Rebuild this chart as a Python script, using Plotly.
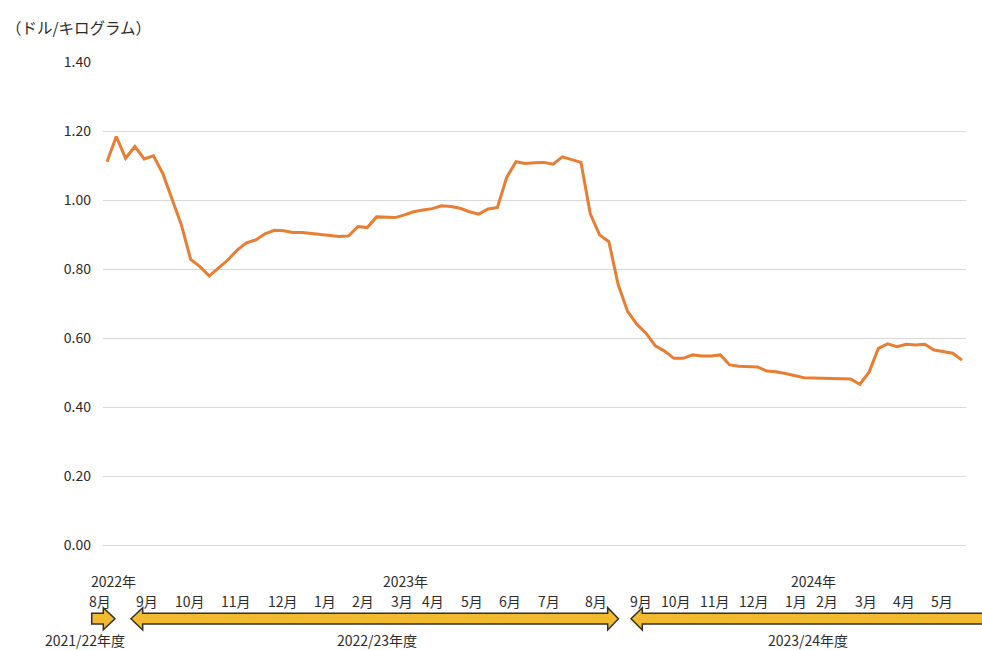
import plotly.graph_objects as go

# Weekly price, USD per kilogram (Aug 2022 - May 2024)
prices = [
    1.111, 1.184, 1.121, 1.155, 1.119, 1.128, 1.077, 1.000, 0.928, 0.828,
    0.807, 0.780, 0.802, 0.826, 0.855, 0.876, 0.884, 0.902, 0.912, 0.911,
    0.906, 0.906, 0.903, 0.901, 0.897, 0.894, 0.896, 0.923, 0.920, 0.951,
    0.949, 0.949, 0.957, 0.966, 0.971, 0.975, 0.983, 0.981, 0.976, 0.966,
    0.959, 0.974, 0.978, 1.065, 1.111, 1.106, 1.108, 1.109, 1.104, 1.125,
    1.117, 1.109, 0.960, 0.899, 0.879, 0.755, 0.678, 0.640, 0.614, 0.577,
    0.562, 0.541, 0.541, 0.551, 0.548, 0.548, 0.551, 0.522, 0.518, 0.517,
    0.516, 0.504, 0.502, 0.497, 0.491, 0.485, 0.484, 0.483, 0.482, 0.481,
    0.481, 0.466, 0.501, 0.570, 0.583, 0.575, 0.582, 0.580, 0.582, 0.565,
    0.560, 0.556, 0.536,
]
weeks = list(range(len(prices)))

# Month labels along the week axis (positions in week units)
month_labels = ["8月", "9月", "10月", "11月", "12月", "1月", "2月", "3月", "4月", "5月",
                "6月", "7月", "8月", "9月", "10月", "11月", "12月", "1月", "2月", "3月",
                "4月", "5月"]
month_pos = [-0.75, 4.27, 8.93, 13.88, 18.9, 23.46, 27.55, 31.74, 35.08, 39.24,
             43.33, 47.54, 52.57, 57.46, 61.23, 65.43, 69.6, 74.17, 77.48, 81.62,
             85.76, 89.9]
year_labels = ["2022年", "2023年", "2024年"]
year_pos = [0.68, 32.07, 76.0]
fy_labels = ["2021/22年度", "2022/23年度", "2023/24年度"]
fy_pos = [-2.33, 29.03, 75.43]

y_ticks = [0.0, 0.2, 0.4, 0.6, 0.8, 1.0, 1.2, 1.4]

FONT = "Noto Sans CJK JP"
TXT = "#2b2b2b"
FS = 14

W, H = 982, 650
L, R, T, B = 103, 16, 62, 105
PW, PH = W - L - R, H - T - B
FIRST_PX, LAST_PX = 107, 962
step = (LAST_PX - FIRST_PX) / (len(prices) - 1)


def px(x):
    return (x - L) / PW


def py(y):
    return (H - B - y) / PH


def wx(w):
    # week position -> paper x
    return px(FIRST_PX + w * step)


fig = go.Figure()
fig.add_trace(go.Scatter(
    x=weeks, y=prices, mode="lines",
    line=dict(color="#E97D32", width=3),
    hoverinfo="y",
))

x0 = -(FIRST_PX - L) / step
x1 = (len(prices) - 1) + (L + PW - LAST_PX) / step

fig.update_layout(
    width=W, height=H,
    margin=dict(l=L, r=R, t=T, b=B),
    paper_bgcolor="white", plot_bgcolor="white",
    showlegend=False,
    font=dict(family=FONT, size=FS, color=TXT),
    xaxis=dict(range=[x0, x1], showgrid=False, zeroline=False,
               showticklabels=False, ticks="", showline=False),
    yaxis=dict(range=[0, 1.4], tickvals=y_ticks, tickformat=".2f",
               showgrid=True, gridcolor="#D9D9D9", gridwidth=1,
               zeroline=True, zerolinecolor="#D9D9D9", zerolinewidth=1,
               showline=False, ticks="", ticklabelstandoff=11,
               tickfont=dict(family=FONT, size=FS, color=TXT)),
)


def label(text, x, y, size=FS):
    return dict(text=text, xref="paper", yref="paper", x=x, y=y,
                xanchor="center", yanchor="middle", showarrow=False,
                font=dict(family=FONT, size=size, color=TXT))


annotations = [dict(
    text="（ドル/キログラム）", xref="paper", yref="paper",
    x=px(4), y=py(27), xanchor="left", yanchor="middle",
    showarrow=False, font=dict(family=FONT, size=15.5, color=TXT),
)]
annotations += [label(t, wx(p), py(601)) for t, p in zip(month_labels, month_pos)]
annotations += [label(t, wx(p), py(581)) for t, p in zip(year_labels, year_pos)]
annotations += [label(t, wx(p), py(640)) for t, p in zip(fy_labels, fy_pos)]
fig.update_layout(annotations=annotations)


def path(points):
    return "M " + " L ".join(f"{px(a):.5f},{py(b):.5f}" for a, b in points) + " Z"


arrow_style = dict(type="path", xref="paper", yref="paper",
                   fillcolor="#F2BA2E", line=dict(color="#303030", width=1.5))
arrows = [
    [(91.7, 613.3), (103.3, 613.3), (103.3, 607.7), (115, 618.7),
     (103.3, 629.7), (103.3, 624), (91.7, 624)],
    [(131, 618.7), (142.7, 607.7), (142.7, 613.3), (607.7, 613.3), (607.7, 607.7),
     (618.5, 618.7), (607.7, 630), (607.7, 624), (142.7, 624), (142.7, 630)],
    [(631, 618.7), (642.3, 607.7), (642.3, 613.3), (992, 613.3), (992, 624),
     (642.3, 624), (642.3, 630)],
]
fig.update_layout(shapes=[dict(path=path(a), **arrow_style) for a in arrows])

fig.write_html("out.html")
